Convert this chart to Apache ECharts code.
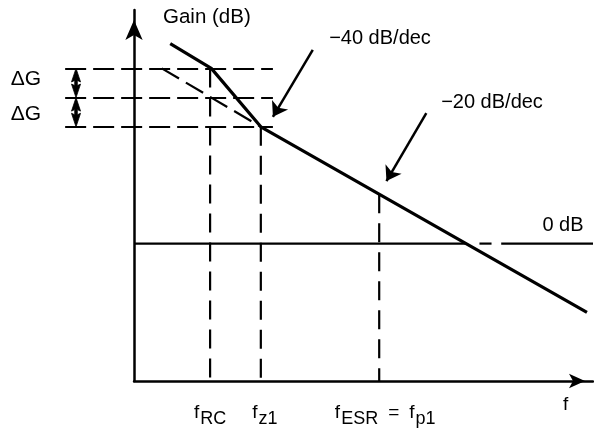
<!DOCTYPE html>
<html><head><meta charset="utf-8">
<script src="https://cdn.jsdelivr.net/npm/echarts@6/dist/echarts.min.js"></script>
<style>html,body{margin:0;padding:0;background:#fff}#c{width:594px;height:429px}</style>
</head><body><div id="c"></div>
<script>
// x: log10 of frequency (decades, arbitrary origin); y: gain in dB
const breakNames = ['RC', 'z1', 'ESR'];
const breakFreqs = [0.63, 1.05, 2.03];
const breakGains = [51, 34, 14.4];          // where each vertical marker meets the gain curve
const levelGains = [51, 42.5, 34];          // ΔG reference levels
const levelSpan = [-0.57, 1.15];
const gainX = [0.30, 0.64, 1.05, 3.75];
const gainY = [58.2, 51, 34, -20];
const asymX = [0.23, 1.05];
const asymY = [51, 34];
const zeroSegs = [[0, 2.75], [2.86, 2.96], [3.04, 3.8]];
const deltaX = -0.48;
const slopeLabels = ['\u221240 dB/dec', '\u221220 dB/dec'];
const slopeFrom = [[1.48, 56.4], [2.42, 38]];
const slopeTo = [[1.15, 36.9], [2.09, 18.2]];
const xRange = [0, 3.8];
const yRange = [-40, 68];

const FONT = '"Liberation Sans", Arial, sans-serif';
const chart = echarts.init(document.getElementById('c'), null, {renderer: 'canvas'});

const series = [];
// gain curve
series.push({type: 'line', data: gainX.map((x, i) => [x, gainY[i]]), symbol: 'none', clip: false,
  lineStyle: {color: '#000', width: 3.2}, z: 5, silent: true});
// -20 dB/dec asymptote extension
series.push({type: 'line', data: asymX.map((x, i) => [x, asymY[i]]), symbol: 'none', clip: false,
  lineStyle: {color: '#000', width: 2.2, type: [20, 8]}, silent: true});
// ΔG level lines (extend left of the gain axis)
series.push({type: 'lines', coordinateSystem: 'cartesian2d', clip: false, symbol: 'none', silent: true,
  lineStyle: {color: '#000', width: 2.2, type: [21, 7], opacity: 1, curveness: 0},
  data: levelGains.map(g => ({coords: [[levelSpan[0], g], [levelSpan[1], g]]}))});
// vertical markers
breakFreqs.forEach((f, i) => series.push({type: 'line', data: [[f, breakGains[i]], [f, yRange[0]]], symbol: 'none', clip: false,
  lineStyle: {color: '#000', width: 2.2, type: [19, 10]}, silent: true}));
// 0 dB line
zeroSegs.forEach(s => series.push({type: 'line', data: [[s[0], 0], [s[1], 0]], symbol: 'none', clip: false,
  lineStyle: {color: '#000', width: 2.2}, silent: true}));
// ΔG double arrows (custom shapes through the axis scales)
series.push({type: 'custom', coordinateSystem: 'cartesian2d', clip: false, silent: true, z: 6,
  data: [[deltaX, levelGains[0], levelGains[1]], [deltaX, levelGains[1], levelGains[2]]],
  renderItem: function (params, api) {
    const a = api.coord([api.value(0), api.value(1)]);
    const b = api.coord([api.value(0), api.value(2)]);
    const cx = a[0], t = a[1], btm = b[1], hw = 4.5, hl = 13.5, sw = 1.3;
    return {type: 'polygon', shape: {points: [
      [cx, t], [cx + hw, t + hl], [cx + sw, t + hl - 1.5], [cx + sw, btm - hl + 1.5], [cx + hw, btm - hl], [cx, btm],
      [cx - hw, btm - hl], [cx - sw, btm - hl + 1.5], [cx - sw, t + hl - 1.5], [cx - hw, t + hl]
    ]}, style: {fill: '#000', stroke: '#000', lineWidth: 0.8}};
  }});
// slope annotation arrows
series.push({type: 'lines', coordinateSystem: 'cartesian2d', clip: false, symbol: ['none', 'arrow'], symbolSize: 14,
  lineStyle: {color: '#000', width: 2.5, opacity: 1, curveness: 0}, silent: true,
  data: slopeFrom.map((p, i) => ({coords: [p, slopeTo[i]]}))});

const sub = (name) => {
  if (name === 'ESR') return '{fe|f}{s|ESR}{e|=}{f|f}{s|p1}';
  if (name === 'z1') return '{fz|f}{s|z1}';
  return '{f|f}{s|' + name + '}';
};
const fTok = {fontFamily: FONT, fontSize: 19, color: '#000', lineHeight: 20, verticalAlign: 'top'};

chart.setOption({
  animation: false,
  backgroundColor: '#fff',
  grid: {left: 134, right: 1, top: 10, bottom: 48},
  xAxis: {type: 'value', min: xRange[0], max: xRange[1], splitLine: {show: false},
    axisLine: {show: true, onZero: false, symbol: ['none', 'arrow'], symbolSize: [11, 16], symbolOffset: [0, -8],
      lineStyle: {color: '#000', width: 2.5}},
    axisTick: {show: false},
    axisLabel: {customValues: breakFreqs, margin: 22, color: '#000',
      formatter: v => sub(breakNames[breakFreqs.indexOf(v)]),
      rich: {
        f: fTok,
        fz: Object.assign({}, fTok, {padding: [0, 0, 0, 8]}),
        fe: Object.assign({}, fTok, {padding: [0, 0, 0, 12]}),
        s: {fontFamily: FONT, fontSize: 18, color: '#000', lineHeight: 20, padding: [7, 0, 0, 1], verticalAlign: 'top'},
        e: {fontFamily: FONT, fontSize: 19, color: '#000', lineHeight: 20, padding: [0, 10, 0, 10], verticalAlign: 'top'}
      }},
    name: 'f', nameLocation: 'end', nameGap: -30,
    nameTextStyle: {fontFamily: FONT, fontSize: 19, color: '#000', align: 'left', verticalAlign: 'top', padding: [14, 0, 0, 0]}
  },
  yAxis: {type: 'value', min: yRange[0], max: yRange[1], splitLine: {show: false},
    axisLine: {show: true, onZero: false, symbol: ['none', 'arrow'], symbolSize: [13, 20], symbolOffset: [0, -10],
      lineStyle: {color: '#000', width: 2.5}},
    axisTick: {show: false}, axisLabel: {show: false},
    name: 'Gain (dB)', nameLocation: 'end', nameGap: -7,
    nameTextStyle: {fontFamily: FONT, fontSize: 20.5, color: '#000', align: 'left', verticalAlign: 'middle', padding: [0, 0, 0, 29]}
  },
  graphic: [
    {type: 'text', style: {text: slopeLabels[0], x: 380, y: 38, font: '20px ' + FONT, fill: '#000', textAlign: 'center', textVerticalAlign: 'middle', align: 'center', verticalAlign: 'middle'}},
    {type: 'text', style: {text: slopeLabels[1], x: 492, y: 102, font: '20px ' + FONT, fill: '#000', textAlign: 'center', textVerticalAlign: 'middle', align: 'center', verticalAlign: 'middle'}},
    {type: 'text', style: {text: '0 dB', x: 563, y: 225, font: '20px ' + FONT, fill: '#000', textAlign: 'center', textVerticalAlign: 'middle', align: 'center', verticalAlign: 'middle'}},
    {type: 'text', style: {text: '\u0394G', x: 26, y: 79, font: '21px ' + FONT, fill: '#000', textAlign: 'center', textVerticalAlign: 'middle', align: 'center', verticalAlign: 'middle'}},
    {type: 'text', style: {text: '\u0394G', x: 26, y: 114, font: '21px ' + FONT, fill: '#000', textAlign: 'center', textVerticalAlign: 'middle', align: 'center', verticalAlign: 'middle'}}
  ],
  series: series
});
</script></body></html>
